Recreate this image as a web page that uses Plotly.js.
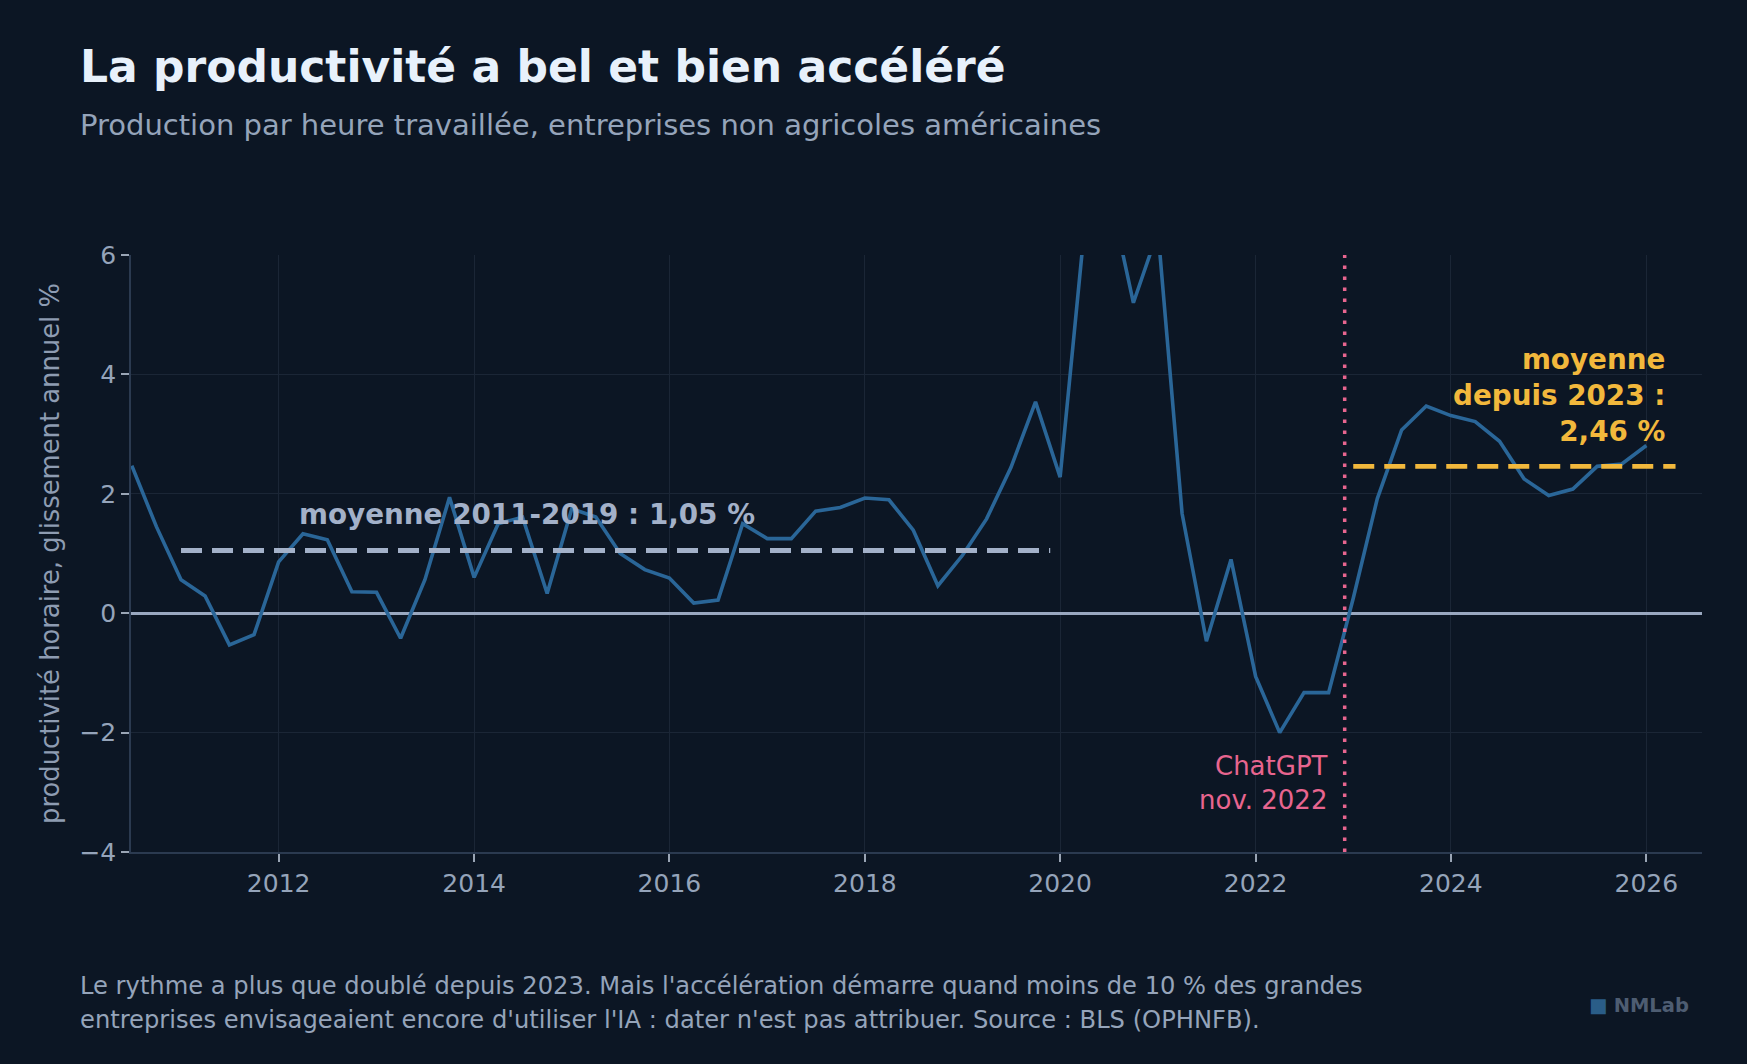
<!DOCTYPE html>
<html>
<head>
<meta charset="utf-8">
<script src="https://cdn.plot.ly/plotly-3.0.1.min.js"></script>
<style>
  html, body { margin: 0; padding: 0; background: #0c1624; }
  #chart { width: 1747px; height: 1064px; }
</style>
</head>
<body>
<div id="chart"></div>
<script>
// ===== Data =====
const quarters = [
  '2010-07-01', '2010-10-01',
  '2011-01-01', '2011-04-01', '2011-07-01', '2011-10-01',
  '2012-01-01', '2012-04-01', '2012-07-01', '2012-10-01',
  '2013-01-01', '2013-04-01', '2013-07-01', '2013-10-01',
  '2014-01-01', '2014-04-01', '2014-07-01', '2014-10-01',
  '2015-01-01', '2015-04-01', '2015-07-01', '2015-10-01',
  '2016-01-01', '2016-04-01', '2016-07-01', '2016-10-01',
  '2017-01-01', '2017-04-01', '2017-07-01', '2017-10-01',
  '2018-01-01', '2018-04-01', '2018-07-01', '2018-10-01',
  '2019-01-01', '2019-04-01', '2019-07-01', '2019-10-01',
  '2020-01-01', '2020-04-01', '2020-07-01', '2020-10-01',
  '2021-01-01', '2021-04-01', '2021-07-01', '2021-10-01',
  '2022-01-01', '2022-04-01', '2022-07-01', '2022-10-01',
  '2023-01-01', '2023-04-01', '2023-07-01', '2023-10-01',
  '2024-01-01', '2024-04-01', '2024-07-01', '2024-10-01',
  '2025-01-01', '2025-04-01', '2025-07-01', '2025-10-01',
  '2026-01-01'
];

// productivité horaire, glissement annuel (%)
const productivity = [
  2.47, 1.45,
  0.56, 0.29, -0.53, -0.36,
  0.86, 1.33, 1.23, 0.36,
  0.35, -0.42, 0.56, 1.94,
  0.60, 1.50, 1.61, 0.33,
  1.75, 1.61, 1.00, 0.73,
  0.59, 0.17, 0.22, 1.50,
  1.25, 1.25, 1.71, 1.77,
  1.93, 1.90, 1.39, 0.46,
  0.97, 1.58, 2.44, 3.54,
  2.28, 6.45, 7.10, 5.20,
  6.40, 1.67, -0.47, 0.90,
  -1.06, -2.00, -1.33, -1.33,
  0.25, 1.92, 3.07, 3.47,
  3.31, 3.21, 2.88, 2.25,
  1.97, 2.08, 2.46, 2.50,
  2.81
];

const meanPre = 1.05;
const periodPre = ['2011-01-01', '2019-11-25'];
const meanPost = 2.46;
const periodPost = ['2023-01-01', '2026-04-20'];
const chatgptDate = '2022-11-30';

const yearTicks = ['2012-01-01', '2014-01-01', '2016-01-01', '2018-01-01',
                   '2020-01-01', '2022-01-01', '2024-01-01', '2026-01-01'];
const yearLabels = ['2012', '2014', '2016', '2018', '2020', '2022', '2024', '2026'];

// ===== Style =====
const BG = '#0c1624';
const FONT = 'DejaVu Sans, Verdana, sans-serif';
const BLUE = '#2a6698';
const GREY = '#a3b1c9';
const GOLD = '#f2b83c';
const PINK = '#e8658f';
const MUTED = '#95a4ba';

// plot box in pixels, used to place page-level texts
const L = 131, T = 255, W = 1571, H = 597;
const px = (x) => (x - L) / W;
const py = (y) => 1 - (y - T) / H;

const fmt = (v) => v.toFixed(2).replace('.', ',');

const traces = [
  {
    x: quarters, y: productivity, type: 'scatter', mode: 'lines',
    line: { color: BLUE, width: 3.6 },
    hoverinfo: 'x+y',
  },
  {
    x: periodPre, y: [meanPre, meanPre], type: 'scatter', mode: 'lines',
    line: { color: GREY, width: 4.8, dash: '21px,10px' },
  },
  {
    x: periodPost, y: [meanPost, meanPost], type: 'scatter', mode: 'lines',
    line: { color: GOLD, width: 4.8, dash: '21px,10px' },
  },
];

const pageText = (text, x, y, size, color, opts) => Object.assign({
  text, xref: 'paper', yref: 'paper', x: px(x), y: py(y),
  xanchor: 'left', yanchor: 'middle', showarrow: false, align: 'left',
  font: { family: FONT, size, color },
}, opts || {});

const layout = {
  width: 1747, height: 1064,
  paper_bgcolor: BG, plot_bgcolor: BG,
  font: { family: FONT, color: MUTED, size: 25 },
  margin: { l: L, r: 1747 - L - W, t: T, b: 1064 - T - H, pad: 0 },
  showlegend: false,
  xaxis: {
    type: 'date',
    range: ['2010-06-28', '2026-07-28'],
    tickvals: yearTicks, ticktext: yearLabels,
    showgrid: true, gridcolor: '#1b2636', gridwidth: 1,
    showline: true, linecolor: '#2b3a50', linewidth: 1.5,
    ticks: 'outside', ticklen: 8, tickwidth: 1.5, tickcolor: '#9aa5b5',
    tickfont: { family: FONT, size: 25, color: MUTED },
    zeroline: false,
  },
  yaxis: {
    range: [-4, 6], dtick: 2, tick0: 0,
    showgrid: true, gridcolor: '#1b2636', gridwidth: 1,
    showline: true, linecolor: '#2b3a50', linewidth: 1.5,
    ticks: 'outside', ticklen: 8, tickwidth: 1.5, tickcolor: '#9aa5b5',
    tickfont: { family: FONT, size: 25, color: MUTED },
    zeroline: true, zerolinecolor: '#9aa8c0', zerolinewidth: 2.5,
    title: {
      text: 'productivité horaire, glissement annuel %',
      font: { family: FONT, size: 25.8, color: '#8e9cb2' },
      standoff: 12,
    },
  },
  shapes: [
    {
      type: 'line', xref: 'x', yref: 'paper',
      x0: chatgptDate, x1: chatgptDate, y0: 0, y1: 1,
      line: { color: PINK, width: 3.5, dash: '3.5px,7.5px' },
    },
  ],
  annotations: [
    pageText('<b>La productivité a bel et bien accéléré</b>', 78, 66.5, 44, '#e8f1fb'),
    pageText('Production par heure travaillée, entreprises non agricoles américaines', 78, 125, 29, MUTED),
    pageText("Le rythme a plus que doublé depuis 2023. Mais l'accélération démarre quand moins de 10 % des grandes",
      78, 985.6, 24.2, MUTED),
    pageText("entreprises envisageaient encore d'utiliser l'IA : dater n'est pas attribuer. Source : BLS (OPHNFB).",
      78, 1020, 24.2, MUTED),
    pageText('<span style="color:#2a5d88">■</span> <b>NMLab</b>', 1691, 1005, 19.5, '#4e5d72',
      { xanchor: 'right' }),
    {
      text: '<b>moyenne 2011-2019 : ' + fmt(meanPre) + ' %</b>',
      x: '2012-03-10', y: 1.647, xref: 'x', yref: 'y',
      xanchor: 'left', yanchor: 'middle', showarrow: false,
      font: { family: FONT, size: 27.8, color: GREY },
    },
    {
      text: '<b>moyenne<br>depuis 2023 :<br>' + fmt(meanPost) + ' %</b>',
      x: '2026-03-08', y: 3.655, xref: 'x', yref: 'y', xshift: 3,
      xanchor: 'right', yanchor: 'middle', align: 'right', showarrow: false,
      font: { family: FONT, size: 27.8, color: GOLD },
    },
    {
      text: 'ChatGPT<br>nov. 2022',
      x: chatgptDate, y: -2.85, xref: 'x', yref: 'y', xshift: -15,
      xanchor: 'right', yanchor: 'middle', align: 'right', showarrow: false,
      font: { family: FONT, size: 26, color: PINK },
    },
  ],
};

Plotly.newPlot('chart', traces, layout, { displayModeBar: false, responsive: false });
</script>
</body>
</html>
